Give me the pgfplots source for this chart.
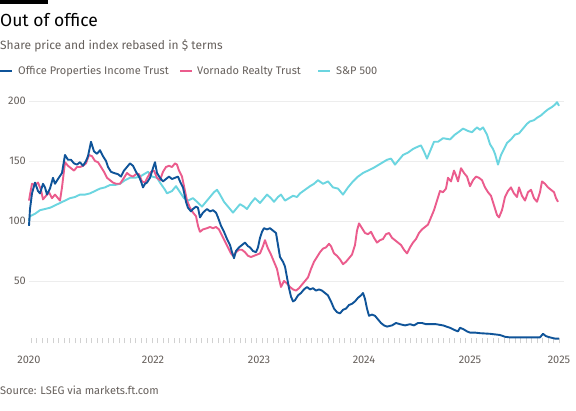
\documentclass[border=0pt]{standalone}
\usepackage{fontspec}
\setmainfont{Fira Sans}
\usepackage{pgfplots}
\pgfplotsset{compat=1.18}
\definecolor{pitblue}{HTML}{0F5499}
\definecolor{vnopink}{HTML}{EB5C8D}
\definecolor{spcyan}{HTML}{6BD5E0}
\definecolor{ftgrey}{HTML}{66605C}
\definecolor{gridgrey}{HTML}{EDEDED}
\begin{document}
\begin{tikzpicture}[x=1pt,y=1pt]
\path[use as bounding box, fill=white] (0,0) rectangle (576,411);
\fill[black] (0,407) rectangle (48,411);
\node[anchor=base west, inner sep=0pt, font=\fontsize{17.5}{20}\selectfont] at (0,384) {Out of office};
\node[anchor=base west, inner sep=0pt, font=\fontsize{12}{14}\selectfont, text=ftgrey] at (0,361) {Share price and index rebased in \$ terms};
\draw[pitblue, line width=2pt] (0,339.5) -- (12,339.5);
\node[anchor=base west, inner sep=0pt, font=\fontsize{11}{13}\selectfont, text=ftgrey] at (18,336) {Office Properties Income Trust};
\draw[vnopink, line width=2pt] (180,339.5) -- (192,339.5);
\node[anchor=base west, inner sep=0pt, font=\fontsize{11}{13}\selectfont, text=ftgrey] at (197,336) {Vornado Realty Trust};
\draw[spcyan, line width=2pt] (318,339.5) -- (330,339.5);
\node[anchor=base west, inner sep=0pt, font=\fontsize{11}{13}\selectfont, text=ftgrey] at (336,336) {S\&P 500};
\node[anchor=base west, inner sep=0pt, font=\fontsize{11}{13}\selectfont, text=ftgrey] at (0,16) {Source: LSEG via markets.ft.com};
\begin{axis}[
  at={(29pt,70pt)}, anchor=south west,
  scale only axis, width=535pt, height=246pt,
  xmin=29, xmax=564, ymin=0, ymax=205,
  axis line style={draw=none},
  ytick={50,100,150,200},
  ytick pos=left,
  ymajorgrids, grid style={gridgrey, line width=0.8pt},
  xtick={29,153,259,364,470,559},
  xticklabels={2020,2022,2023,2024,2025,2025},
  xtick pos=bottom,
  minor xtick={31,36.5,...,562},
  major tick length=0pt,
  minor tick length=5pt,
  tick align=center,
  minor tick style={black!18, line width=0.6pt},
  /pgf/number format/assume math mode=true,
  tick label style={font=\fontsize{11}{13}\selectfont, text=ftgrey},
  yticklabel style={anchor=east, inner sep=0pt, xshift=-3pt},
  xticklabel style={anchor=base, inner sep=0pt, yshift=-22.5pt},
  clip=false,
]
% S&P 500
\addplot[spcyan, line width=1.9pt, line join=round] coordinates {
(29,100) (30,104) (35,106) (40,109) (45,110) (50,111) (55,113) (60,115) (65,117) (70,119) (75,120) (80,122) (85,122) (90,123) (95,125) (100,127) (105,128) (110,130) (115,130) (120,131) (125,134) (130,136) (135,136) (140,137) (144,139) (148,141) (152,137) (157,136) (160,132) (165,126) (167,123) (172,125) (176,129) (180,124) (184,119) (188,117) (193,119) (197,116) (202,112) (206,116) (210,120) (214,124) (217,126) (220,122) (224,116) (228,112) (233,107) (237,111) (240,114) (244,112) (247,110) (251,115) (255,119) (260,115) (264,119) (267,122) (271,119) (274,116) (278,120) (281,122) (285,117) (289,119) (293,121) (297,120) (300,123) (305,126) (310,129) (314,131) (318,134) (323,131) (328,133) (333,128) (338,127) (343,122) (348,128) (353,133) (358,137) (363,140) (368,142) (373,144) (377,146) (383,149) (387,151) (391,152) (395,147) (399,151) (403,155) (408,157) (413,160) (418,162) (421,163) (424,158) (427,152) (431,160) (434,166) (438,166) (443,169) (450,168) (455,172) (460,175) (463,177) (468,175) (472,174) (477,178) (480,176) (483,178) (487,172) (490,164) (493,160) (495,156) (498,147) (501,155) (504,160) (507,165) (511,168) (515,172) (519,173) (523,177) (527,181) (530,183) (534,184) (537,186) (541,188) (545,191) (548,193) (552,195) (555,197) (557,199) (559,196)
};
% Vornado
\addplot[vnopink, line width=1.9pt, line join=round] coordinates {
(29,117) (30,122) (32,131) (35,130) (38,132) (41,126) (43,118) (46,121) (49,124) (52,119) (55,122) (58,119) (60,117) (62,128) (65,149) (68,146) (71,144) (74,142) (77,145) (80,145) (83,146) (86,148) (89,155) (92,154) (95,150) (98,149) (101,145) (104,141) (107,136) (110,134) (113,132) (116,131) (120,131) (124,136) (127,140) (130,138) (133,137) (136,139) (139,139) (142,133) (145,132) (148,137) (151,141) (154,142) (157,136) (160,134) (163,141) (166,145) (169,146) (172,145) (175,148) (177,147) (179,142) (182,137) (185,125) (187,117) (190,111) (193,107) (196,104) (198,96) (200,91) (203,93) (207,94) (210,95) (213,94) (216,95) (219,93) (222,88) (225,83) (228,78) (231,73) (233,71) (236,74) (239,76) (242,76) (245,74) (248,71) (251,70) (254,71) (257,72) (260,73) (263,79) (265,84) (268,77) (271,72) (274,66) (277,60) (279,52) (281,45) (284,50) (287,48) (290,45) (293,43) (296,42) (299,44) (302,47) (305,50) (308,53) (311,60) (314,66) (317,70) (320,74) (323,77) (326,78) (329,81) (331,79) (334,73) (337,71) (340,68) (343,64) (346,66) (349,69) (352,72) (355,80) (357,92) (359,98) (362,94) (365,90) (368,89) (371,91) (374,86) (377,82) (380,84) (383,85) (386,89) (389,90) (392,86) (395,84) (398,82) (401,80) (404,76) (407,73) (410,78) (413,82) (416,85) (419,90) (422,93) (425,95) (428,97) (431,103) (434,109) (437,117) (440,125) (443,124) (446,127) (448,136) (451,133) (454,142) (456,138) (458,133) (461,144) (464,140) (467,137) (470,129) (473,134) (476,137) (479,136) (482,134) (485,128) (488,124) (491,121) (494,113) (497,105) (499,103) (502,109) (505,120) (508,125) (511,128) (514,123) (517,120) (519,128) (522,121) (525,117) (528,124) (531,126) (534,119) (537,116) (540,124) (542,133) (545,131) (548,128) (551,126) (554,124) (556,119) (558,116)
};
% Office Properties Income Trust
\addplot[pitblue, line width=1.9pt, line join=round] coordinates {
(29,96) (30,110) (32,123) (35,132) (38,125) (40,123) (43,131) (45,128) (47,122) (50,127) (53,136) (55,131) (58,135) (62,140) (65,155) (68,151) (71,151) (74,148) (77,147) (80,149) (83,146) (86,150) (88,154) (91,166) (94,158) (97,156) (100,159) (103,154) (106,150) (108,145) (111,141) (114,140) (118,139) (121,137) (124,142) (127,145) (130,148) (133,146) (136,141) (139,137) (141,133) (143,128) (145,131) (147,132) (150,136) (153,144) (155,149) (157,140) (160,136) (163,133) (166,135) (169,137) (172,135) (175,136) (178,137) (180,133) (183,128) (186,116) (188,111) (191,108) (193,110) (196,112) (198,111) (200,103) (203,107) (207,110) (210,108) (213,109) (216,107) (218,103) (221,96) (224,91) (227,85) (230,80) (232,74) (234,69) (236,75) (239,78) (242,80) (245,82) (248,79) (250,78) (253,75) (256,74) (258,78) (260,86) (262,91) (264,94) (267,93) (270,94) (273,92) (276,90) (278,80) (280,70) (283,66) (285,62) (287,53) (289,44) (291,37) (293,33) (295,34) (298,38) (301,40) (304,43) (307,45) (310,43) (313,44) (316,42) (319,43) (322,42) (325,40) (328,38) (331,33) (334,27) (337,24) (340,23) (343,26) (346,27) (349,30) (352,31) (355,33) (358,36) (361,38) (363,40) (365,35) (367,27) (369,21) (372,22) (375,21) (378,18) (381,15) (384,13) (387,12) (392,13) (396,15) (400,14) (405,13) (410,14) (414,13) (418,15) (422,15) (426,14) (430,14) (436,14) (443,13) (450,11) (455,9) (458,8) (460,11) (463,10) (467,8) (470,7) (475,7) (480,6.5) (490,6) (500,5) (505,3.5) (510,3) (520,3) (530,3) (540,3) (543,6) (546,4) (550,3) (555,2) (559,2)
};
\end{axis}
\end{tikzpicture}
\end{document}
